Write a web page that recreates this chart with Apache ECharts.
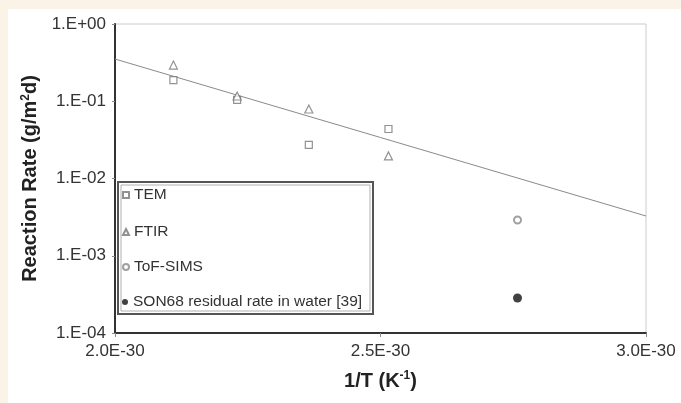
<!DOCTYPE html>
<html>
<head>
<meta charset="utf-8">
<script src="https://cdn.jsdelivr.net/npm/echarts@6/dist/echarts.min.js"></script>
<style>
  html, body { margin: 0; padding: 0; background: #ffffff; }
  #chart { width: 681px; height: 403px; }
</style>
</head>
<body>
<div id="chart"></div>
<script>
// x values are 1/T in units of 1E-30 K^-1; y values are reaction rates in g/(m2 d)
const seriesNames = ['TEM', 'FTIR', 'ToF-SIMS', 'SON68 residual rate in water [39]'];

const temX = [2.11, 2.23, 2.365, 2.515];
const temY = [0.188, 0.104, 0.0272, 0.0437];

const ftirX = [2.11, 2.23, 2.365, 2.515];
const ftirY = [0.294, 0.117, 0.0794, 0.0196];

const tofX = [2.758];
const tofY = [0.0029];

const sonX = [2.758];
const sonY = [0.000284];

// Arrhenius fit line end points
const fitX = [2.0, 3.0];
const fitY = [0.352, 0.00327];

const xTickLabels = ['2.0E-30', '2.5E-30', '3.0E-30'];
const yTickLabels = ['1.E-04', '1.E-03', '1.E-02', '1.E-01', '1.E+00'];

const pairs = (xs, ys) => xs.map((x, i) => [x, ys[i]]);

const font = '"Liberation Sans", Arial, sans-serif';
const textColor = '#333333';

const legendTops = [186, 223, 258, 293];

const chart = echarts.init(document.getElementById('chart'), null, { renderer: 'canvas' });

chart.setOption({
  animation: false,
  backgroundColor: '#ffffff',
  textStyle: { fontFamily: font },
  graphic: [
    // warm strip along the top and left edges
    { type: 'rect', z: -10, shape: { x: 0, y: 0, width: 681, height: 9 }, style: { fill: '#fcf3e8' } },
    { type: 'rect', z: -10, shape: { x: 0, y: 0, width: 8, height: 403 }, style: { fill: '#fcf3e8' } },
    // legend frame (double border)
    { type: 'rect', z: 3, shape: { x: 118, y: 182, width: 255, height: 132 }, style: { fill: '#ffffff', stroke: '#555555', lineWidth: 2 } },
    { type: 'rect', z: 3, shape: { x: 121, y: 185, width: 249, height: 126 }, style: { fill: 'none', stroke: '#b0b0b0', lineWidth: 1 } }
  ],
  grid: {
    left: 115, right: 35, top: 24, bottom: 70,
    show: true, borderColor: '#cccccc', borderWidth: 1, backgroundColor: '#ffffff'
  },
  legend: seriesNames.map((name, i) => ({
    data: [name],
    orient: 'vertical',
    left: 122,
    top: legendTops[i],
    padding: 0,
    itemWidth: 6,
    itemHeight: 6,
    z: 10,
    selectedMode: false,
    textStyle: { fontFamily: font, fontSize: 15.5, color: textColor, lineHeight: 18 }
  })),
  xAxis: {
    type: 'value',
    min: 2.0, max: 3.0, interval: 0.5,
    name: '1/T (K{sup|-1})',
    nameLocation: 'middle',
    nameGap: 37,
    nameTextStyle: {
      fontFamily: font, fontSize: 20, fontWeight: 'bold', color: '#222222',
      rich: { sup: { fontSize: 12, fontWeight: 'bold', color: '#222222', verticalAlign: 'top', padding: [0, 0, 10, 0] } }
    },
    axisLine: { show: true, lineStyle: { color: '#333333', width: 2 } },
    axisTick: { show: true, inside: false, length: 4, lineStyle: { color: '#888888' } },
    splitLine: { show: false },
    axisLabel: {
      fontFamily: font, fontSize: 17, color: textColor, margin: 10,
      formatter: v => xTickLabels[Math.round((v - 2.0) / 0.5)]
    }
  },
  yAxis: {
    type: 'log',
    logBase: 10,
    min: 0.0001, max: 1,
    name: 'Reaction Rate (g/m{sup|2}d)',
    nameLocation: 'middle',
    nameGap: 71,
    nameRotate: 90,
    nameTextStyle: {
      fontFamily: font, fontSize: 20, fontWeight: 'bold', color: '#222222',
      rich: { sup: { fontSize: 12, fontWeight: 'bold', color: '#222222', verticalAlign: 'top', padding: [0, 0, 10, 0] } }
    },
    axisLine: { show: true, lineStyle: { color: '#333333', width: 2 } },
    axisTick: { show: true, inside: false, length: 3, lineStyle: { color: '#888888' } },
    minorTick: { show: false },
    splitLine: { show: false },
    axisLabel: {
      fontFamily: font, fontSize: 17, color: textColor, margin: 9,
      formatter: v => yTickLabels[Math.round(Math.log10(v)) + 4]
    }
  },
  series: [
    {
      name: 'fit', type: 'line', data: pairs(fitX, fitY),
      symbol: 'none', silent: true, z: 1,
      lineStyle: { color: '#8a8a8a', width: 1 }
    },
    {
      name: seriesNames[0], type: 'scatter', data: pairs(temX, temY),
      symbol: 'rect', symbolSize: 7,
      itemStyle: { color: '#ffffff', borderColor: '#777777', borderWidth: 1.2 }
    },
    {
      name: seriesNames[1], type: 'scatter', data: pairs(ftirX, ftirY),
      symbol: 'triangle', symbolSize: 8,
      itemStyle: { color: '#ffffff', borderColor: '#777777', borderWidth: 1.2 }
    },
    {
      name: seriesNames[2], type: 'scatter', data: pairs(tofX, tofY),
      symbol: 'circle', symbolSize: 7,
      itemStyle: { color: '#ffffff', borderColor: '#888888', borderWidth: 2 }
    },
    {
      name: seriesNames[3], type: 'scatter', data: pairs(sonX, sonY),
      symbol: 'circle', symbolSize: 9,
      itemStyle: { color: '#111111', borderColor: '#111111', borderWidth: 0 }
    }
  ]
});
</script>
</body>
</html>
